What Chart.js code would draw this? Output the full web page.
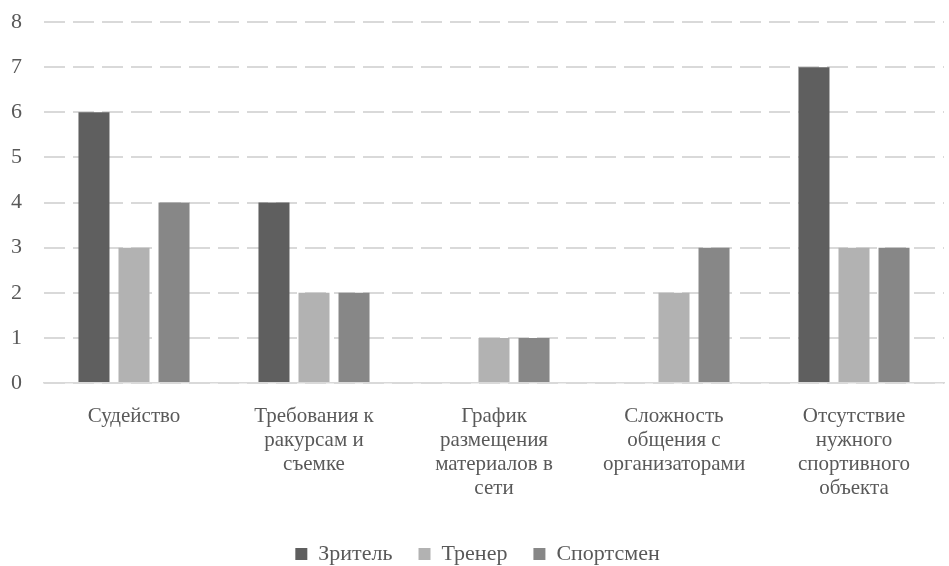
<!DOCTYPE html>
<html>
<head>
<meta charset="utf-8">
<script src="https://cdn.jsdelivr.net/npm/chart.js@4"></script>
<style>
  html, body { margin: 0; padding: 0; background: #fff; overflow: hidden; }
  #wrap { width: 949px; height: 566px; overflow: hidden; }
</style>
</head>
<body>
<div id="wrap"><canvas id="mainChart" width="949" height="575"></canvas></div>
<script>
// категории проблем
const categories = [
    'Судейство',
    ['Требования к', 'ракурсам и', 'съемке'],
    ['График', 'размещения', 'материалов в', 'сети'],
    ['Сложность', 'общения с', 'организаторами'],
    ['Отсутствие', 'нужного', 'спортивного', 'объекта']
];
const seriesNames = ['Зритель', 'Тренер', 'Спортсмен'];
const spectator = [6, 4, 0, 0, 7];
const coach = [3, 2, 1, 2, 3];
const athlete = [4, 2, 1, 3, 3];
const yTicks = [0, 1, 2, 3, 4, 5, 6, 7, 8];

const colors = ['#5f5f5f', '#b2b2b2', '#878787'];
const textColor = '#595959';
const fontFamily = '"Liberation Serif", "Times New Roman", serif';

const datasets = [spectator, coach, athlete].map((data, i) => ({
    label: seriesNames[i],
    data: data,
    backgroundColor: colors[i],
    borderWidth: 0,
    categoryPercentage: 0.667,
    barPercentage: 0.775
}));

const ctx = document.getElementById('mainChart').getContext('2d');
new Chart(ctx, {
    type: 'bar',
    data: { labels: categories, datasets },
    options: {
        responsive: false,
        animation: false,
        layout: { padding: { top: 22, right: 5, left: 11, bottom: 0 } },
        plugins: {
            tooltip: { enabled: false },
            legend: {
                position: 'bottom',
                labels: {
                    boxWidth: 12,
                    boxHeight: 12,
                    padding: 26,
                    color: textColor,
                    font: { family: fontFamily, size: 22 }
                }
            }
        },
        scales: {
            x: {
                grid: { display: false },
                border: { display: true, color: '#d9d9d9', width: 1.5 },
                ticks: {
                    color: textColor,
                    font: { family: fontFamily, size: 21, lineHeight: 1.14 },
                    maxRotation: 0,
                    autoSkip: false,
                    padding: 14
                },
                afterFit: (scale) => { scale.height = 134; }
            },
            y: {
                min: 0,
                max: yTicks[yTicks.length - 1],
                afterBuildTicks: (scale) => { scale.ticks = yTicks.map(v => ({ value: v })); },
                grid: { color: '#d9d9d9', lineWidth: 2, drawTicks: false },
                border: { display: false, dash: [21, 8] },
                ticks: {
                    color: textColor,
                    font: { family: fontFamily, size: 22 },
                    padding: 0,
                    crossAlign: 'far'
                },
                afterFit: (scale) => { scale.width = 33; }
            }
        }
    }
});
</script>
</body>
</html>
